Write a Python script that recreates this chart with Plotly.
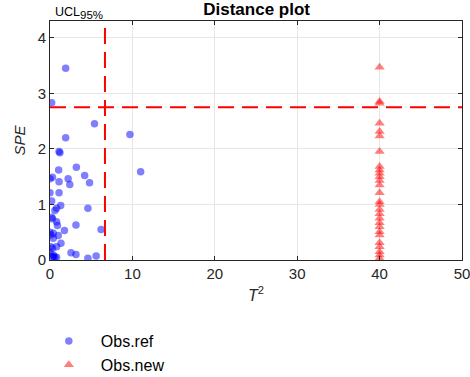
import plotly.graph_objects as go

# Reference observations
ref_t2 = [5.4, 9.7, 1.9, 1.1, 1.2, 11.0, 3.2, 1.05, 4.2, 2.2, 0.3, 0.0, 1.1, 2.4, 4.8,
          0.0, 1.1, 0.2, 1.3, 4.6, 0.8, 0.6, 0.2, 0.3, 0.8, 0.9, 3.15, 1.75, 6.2, 0.0,
          0.4, 0.1, 1.0, 1.33, 0.4, 0.1, 0.8, 0.3, 0.0, 2.55, 3.15, 0.4, 0.45, 4.6, 5.6,
          0.8, 1.9, 0.2, 0.6, 0.3]
ref_spe = [2.45, 2.26, 2.2, 1.95, 1.93, 1.59, 1.67, 1.62, 1.52, 1.46, 1.49, 1.46, 1.41, 1.36, 1.39,
           1.21, 1.21, 1.06, 0.98, 0.93, 0.93, 0.89, 0.77, 0.74, 0.69, 0.62, 0.63, 0.53, 0.55, 0.5,
           0.48, 0.45, 0.44, 0.3, 0.39, 0.24, 0.24, 0.21, 0.14, 0.13, 0.10, 0.09, 0.06, 0.03, 0.07,
           0.05, 3.45, 2.83, 0.05, 0.06]

# New observations
new_t2 = [40.0] * 28
new_spe = [3.47, 2.85, 2.82, 2.46, 2.31, 2.23, 1.95, 1.68, 1.62, 1.56, 1.50, 1.43, 1.35, 1.21,
           1.05, 1.0, 0.91, 0.83, 0.75, 0.67, 0.6, 0.51, 0.45, 0.31, 0.24, 0.15, 0.09, 0.03]

ucl_t2 = 6.67
ucl_spe = 2.75
x_range = [0, 50]
y_range = [0, 4.3]
x_ticks = [0, 10, 20, 30, 40, 50]
y_ticks = [0, 1, 2, 3, 4]

FONT = "Liberation Sans, Arial, Helvetica, sans-serif"

fig = go.Figure()
fig.add_trace(go.Scatter(x=ref_t2, y=ref_spe, mode="markers", name="Obs.ref",
                         marker=dict(symbol="circle", size=7.5, color="rgba(0,0,255,0.5)",
                                     line=dict(width=0))))
fig.add_trace(go.Scatter(x=new_t2, y=new_spe, mode="markers", name="Obs.new",
                         marker=dict(symbol="triangle-up", size=9, color="rgba(255,0,0,0.5)",
                                     line=dict(width=0))))

fig.add_shape(type="line", x0=x_range[0], x1=x_range[1], y0=ucl_spe, y1=ucl_spe,
              line=dict(color="#ff0000", width=2, dash="16px,8px"), layer="above")
fig.add_shape(type="line", x0=ucl_t2, x1=ucl_t2, y0=y_range[0], y1=y_range[1],
              line=dict(color="#ff0000", width=2, dash="16px,8px"), layer="above")

fig.add_annotation(x=ucl_t2, y=1, xref="x", yref="paper",
                   text="UCL<sub><span style='font-size:11.5px'>95%</span></sub>",
                   showarrow=False, xanchor="right", yanchor="bottom",
                   font=dict(size=12.5, color="#000000", family=FONT), yshift=-2)

axis_common = dict(showline=True, linecolor="#262626", linewidth=1, mirror="ticks",
                   ticks="inside", ticklen=4, tickcolor="#262626",
                   showgrid=True, gridcolor="#e6e6e6", gridwidth=1, zeroline=False,
                   ticklabeloverflow="allow",
                   tickfont=dict(size=15, color="#262626", family=FONT))

fig.update_layout(
    width=470, height=377,
    margin=dict(l=50, r=8, t=21, b=117, autoexpand=False),
    paper_bgcolor="white", plot_bgcolor="white",
    font=dict(family=FONT, color="#262626"),
    title=dict(text="<b>Distance plot</b>", x=0.546, xanchor="center",
               y=0.977, yanchor="middle", font=dict(size=17, color="#000000", family=FONT)),
    xaxis=dict(range=x_range, tickvals=x_ticks,
               title=dict(text="<i>T</i><sup>2</sup>", font=dict(size=16), standoff=8),
               **axis_common),
    yaxis=dict(range=y_range, tickvals=y_ticks,
               title=dict(text="<i>SPE</i>", font=dict(size=15), standoff=8),
               **axis_common),
    showlegend=True,
    legend=dict(x=-0.032, y=-0.268, xanchor="left", yanchor="top", orientation="v",
                itemwidth=54, tracegroupgap=0, font=dict(size=16, color="#000000", family=FONT),
                bgcolor="rgba(0,0,0,0)"),
)

fig.write_html("out.html")
